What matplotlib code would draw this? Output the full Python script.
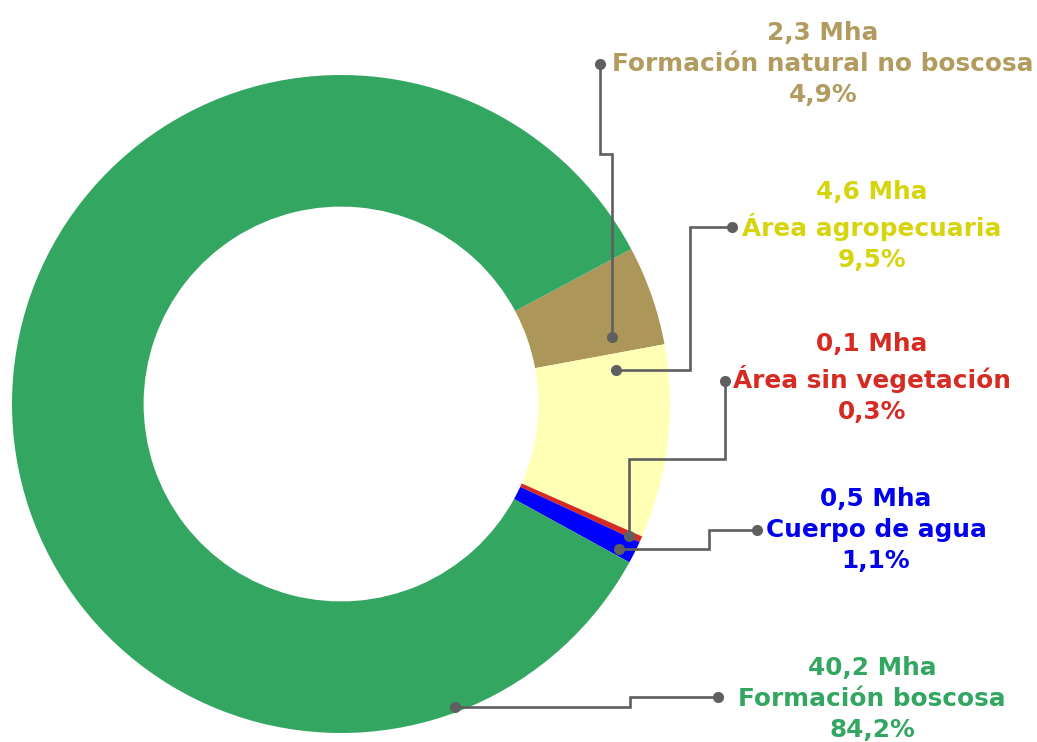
import matplotlib
matplotlib.use("Agg")
import matplotlib.pyplot as plt

# ---- data ----
categories = ["Formación natural no boscosa", "Área agropecuaria",
              "Área sin vegetación", "Cuerpo de agua", "Formación boscosa"]
mha = ["2,3", "4,6", "0,1", "0,5", "40,2"]
percent = [4.9, 9.5, 0.3, 1.1, 84.2]
pct_labels = ["4,9%", "9,5%", "0,3%", "1,1%", "84,2%"]

slice_colors = ["#ad9659", "#ffffb5", "#d62b22", "#0000ff", "#33a661"]
text_colors = ["#b19b5e", "#d6d40c", "#d62b22", "#0000ee", "#33a661"]

W, H = 1037, 742
fig = plt.figure(figsize=(W / 100, H / 100), dpi=100)
ax = fig.add_axes([0, 0, 1, 1])

cx, cy, R = 341, H - 404, 329
ax.pie(percent, colors=slice_colors, startangle=28.1, counterclock=False,
       center=(cx, cy), radius=R, frame=True,
       wedgeprops=dict(width=R * 0.40, linewidth=0))
ax.set_xlim(0, W)
ax.set_ylim(0, H)
ax.axis("off")

def P(x, y):
    return (x, H - y)

# connector paths (pixel layout, top-left origin), first point on slice, last near label
paths = [
    [(612, 337), (612, 154), (600, 154), (600, 64)],
    [(616, 370), (690, 370), (690, 227), (732, 227)],
    [(629, 536), (629, 459), (725, 459), (725, 381)],
    [(619, 549), (709, 549), (709, 530), (757, 530)],
    [(455, 707), (630, 707), (630, 697), (718, 697)],
]
label_pos = [(823, 64), (872, 226), (872, 378), (876, 530), (872, 699)]

lc = "#5f5f5f"
for path in paths:
    pts = [P(*p) for p in path]
    xs = [p[0] for p in pts]
    ys = [p[1] for p in pts]
    ax.plot(xs, ys, color=lc, lw=1.9, solid_joinstyle="miter", zorder=3)
    ax.plot([xs[0], xs[-1]], [ys[0], ys[-1]], "o", color=lc, ms=8,
            mec="none", zorder=4)

for i, cat in enumerate(categories):
    x, y = P(*label_pos[i])
    ax.text(x, y, f"{mha[i]} Mha\n{cat}\n{pct_labels[i]}", ha="center",
            va="center", color=text_colors[i], fontsize=17.8, fontweight="bold",
            family="DejaVu Sans", linespacing=1.36)

fig.savefig("out.png", dpi=100)
